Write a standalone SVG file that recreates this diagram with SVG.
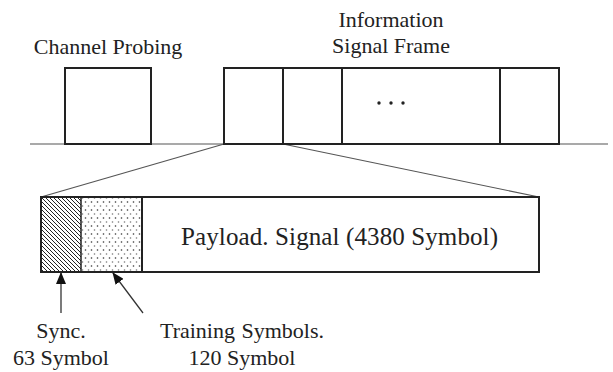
<svg xmlns="http://www.w3.org/2000/svg" width="613" height="372" viewBox="0 0 613 372">
<style>
  .box { fill: #fff; stroke: #222; stroke-width: 2; }
  .thin { stroke: #555; stroke-width: 1.2; fill: none; }
  .lbl { font-family: "Liberation Serif", "Times New Roman", serif; font-size: 22px; fill: #222; }
  .big { font-size: 25px; }
  .arr { stroke: #333; stroke-width: 1.3; fill: none; marker-end: url(#ah); }
</style>
<defs>
  <marker id="ah" viewBox="0 0 12 10" refX="11" refY="5" markerWidth="12" markerHeight="10" markerUnits="userSpaceOnUse" orient="auto">
    <path d="M0,0 L12,5 L0,10 Z" fill="#111"/>
  </marker>
  <pattern id="hatch" patternUnits="userSpaceOnUse" width="4" height="4">
    <rect width="4" height="4" fill="#fff"/>
    <path d="M-1,-1 L5,5 M-1,3 L1,5 M3,-1 L5,1" stroke="#222" stroke-width="1"/>
  </pattern>
  <pattern id="dots" patternUnits="userSpaceOnUse" width="6" height="8">
    <rect width="6" height="8" fill="#fff"/>
    <circle cx="1.5" cy="2" r="0.8" fill="#333"/>
    <circle cx="4.5" cy="6" r="0.8" fill="#777"/>
  </pattern>
</defs>

<g id="connectors">
  <line class="thin" x1="30" y1="144" x2="608" y2="144"/>
  <line class="thin" x1="224" y1="144" x2="41" y2="197"/>
  <line class="thin" x1="283" y1="144" x2="539" y2="197"/>
  <line class="arr" x1="61" y1="313" x2="61" y2="273"/>
  <line class="arr" x1="143" y1="313" x2="113" y2="273"/>
</g>

<g id="channel-probing">
  <rect class="box" x="65" y="68" width="86" height="76"/>
  <text class="lbl" x="108" y="54" text-anchor="middle">Channel Probing</text>
</g>

<g id="info-frame">
  <rect class="box" x="224" y="68" width="335" height="76"/>
  <line x1="283" y1="68" x2="283" y2="144" stroke="#222" stroke-width="2"/>
  <line x1="342" y1="68" x2="342" y2="144" stroke="#222" stroke-width="2"/>
  <line x1="500" y1="68" x2="500" y2="144" stroke="#222" stroke-width="2"/>
  <circle cx="379" cy="103" r="1.7" fill="#222"/>
  <circle cx="391" cy="103" r="1.7" fill="#222"/>
  <circle cx="403" cy="103" r="1.7" fill="#222"/>
  <text class="lbl" x="391" y="27" text-anchor="middle">Information</text>
  <text class="lbl" x="391" y="53" text-anchor="middle">Signal Frame</text>
</g>

<g id="frame-detail">
  <rect class="box" x="41" y="197" width="498" height="75"/>
  <rect x="41" y="197" width="40" height="75" fill="url(#hatch)"/>
  <rect x="81" y="197" width="61" height="75" fill="url(#dots)"/>
  <rect x="41" y="197" width="498" height="75" fill="none" stroke="#222" stroke-width="2"/>
  <line x1="81" y1="197" x2="81" y2="272" stroke="#222" stroke-width="1.5"/>
  <line x1="142" y1="197" x2="142" y2="272" stroke="#222" stroke-width="2"/>
  <text class="lbl big" x="181" y="245" textLength="317" lengthAdjust="spacing">Payload. Signal (4380 Symbol)</text>
</g>

<g id="sync-label">
  <text class="lbl" x="61" y="338" text-anchor="middle">Sync.</text>
  <text class="lbl" x="61" y="365" text-anchor="middle">63 Symbol</text>
</g>

<g id="training-label">
  <text class="lbl" x="242" y="338" text-anchor="middle" word-spacing="1">Training Symbols.</text>
  <text class="lbl" x="242" y="365" text-anchor="middle">120 Symbol</text>
</g>
</svg>
